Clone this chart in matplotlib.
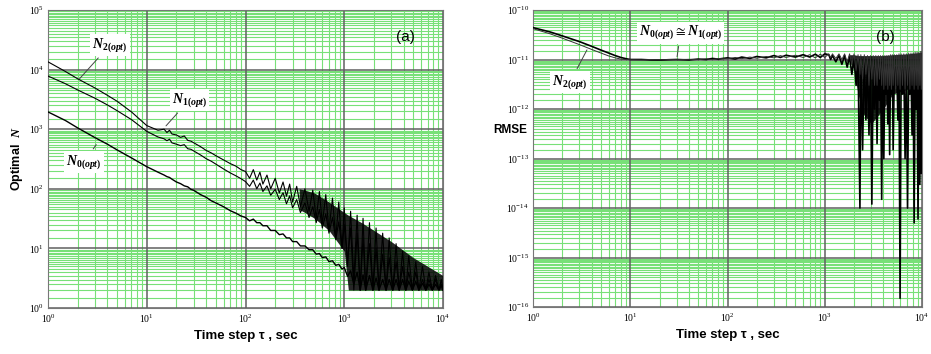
import matplotlib
matplotlib.use('Agg')
import matplotlib.pyplot as plt

plt.rcParams['mathtext.fontset'] = 'custom'
plt.rcParams['mathtext.rm'] = 'Liberation Serif:bold'
plt.rcParams['mathtext.it'] = 'Liberation Serif:italic:bold'
plt.rcParams['mathtext.bf'] = 'Liberation Serif:bold'

# ---- panel (a): optimal N vs time step ----
tau_a = [1, 1.5, 2, 3, 4, 5, 7, 10, 13, 15, 16, 17, 18, 20, 22, 24, 26, 28, 30, 35,
         40, 45, 50, 60, 70, 80, 90, 100,
         110, 120, 130, 140, 150, 165, 180, 200, 220, 240, 260, 280, 300, 330, 360,
         400, 440, 480, 520, 560, 600, 650, 700, 760, 820, 880, 950, 1000, 1080, 1160,
         1250, 1350, 1450, 1550, 1650, 1800, 1950, 2100, 2250, 2450, 2650, 2850, 3100,
         3350, 3600, 3900, 4200, 4500, 4900, 5300, 5700, 6200, 6700, 7200, 7800, 8400,
         9100, 9600, 10000]

n2_opt = [13500, 9300, 7000, 4900, 3700, 2950, 1950, 1150, 960, 1000, 880, 960, 830, 800,
          730, 770, 650, 630, 590, 510, 440, 400, 360, 305, 265, 240, 210, 195,
          150, 210, 140, 190, 120, 170, 100, 150, 85, 130, 75, 120, 60, 110, 50,
          100, 42, 95, 32, 90, 26, 80, 20, 70, 15, 60, 10, 48, 5, 42,
          3, 36, 2, 32, 2, 27, 2, 22, 2, 18, 2, 15, 2,
          12, 2, 9, 2, 7.5, 2, 6, 2, 5, 2, 4, 2, 3.5,
          2, 3, 2]

n1_opt = [7800, 5800, 4550, 3300, 2550, 2050, 1450, 920, 740, 690, 640, 680, 590, 560,
          530, 550, 470, 460, 430, 370, 320, 290, 260, 215, 185, 165, 148, 132,
          110, 140, 100, 125, 90, 112, 78, 98, 66, 86, 56, 76, 48, 66, 40,
          58, 33, 50, 27, 45, 22, 38, 18, 33, 14, 28, 10, 25, 6, 22,
          2, 18, 2, 15, 2, 12, 2, 10, 2, 8, 2, 7, 2,
          6, 2, 5, 2, 4, 2, 4, 2, 3, 2, 3, 2, 3,
          2, 2.5, 2]

n0_opt = [1950, 1400, 1050, 720, 560, 450, 330, 235, 190, 170, 160, 155, 145, 130,
          122, 112, 108, 98, 94, 80, 72, 63, 58, 50, 43, 39, 35, 33,
          29, 31, 27, 27, 24, 24, 20, 20, 17, 17.5, 15, 15, 13, 13, 11,
          11, 9.5, 9.5, 8, 8.2, 7, 7.2, 6, 6.2, 5.2, 5.4, 4.5, 4.8, 3.4, 4.2,
          2.5, 4, 2, 3.6, 2, 3.5, 2, 3.2, 2, 3, 2, 3, 2,
          3, 2, 3, 2, 2.8, 2, 2.8, 2, 2.6, 2, 2.5, 2, 2.5,
          2, 2.4, 2]

# dense oscillation band (where N1 / N2 jump every step)
band_a_tau = [350, 400, 500, 700, 1000, 1100, 1500, 2000, 3000, 5000, 7000, 10000]
band_a_hi = [100, 95, 85, 60, 40, 36, 27, 20, 13, 7, 5, 3.5]
band_a_lo = [45, 40, 32, 20, 9, 2, 2, 2, 2, 2, 2, 2]

# ---- panel (b): RMSE vs time step ----
tau_b = [1, 1.5, 2, 3, 4, 5, 6, 7, 8, 9, 10, 13, 16, 20, 25, 30, 40, 50, 60, 70, 80,
         100, 120, 140, 170, 200, 250, 300, 350, 400, 500, 600, 700, 800, 900, 1000,
         1100, 1150, 1200, 1300, 1400, 1500, 1600, 1700, 1800, 1900, 2000, 2100, 2200,
         2300, 2350, 2450, 2550, 2650, 2750, 2850, 2950, 3050, 3150, 3250, 3350, 3450,
         3550, 3650, 3750, 3850, 3950, 4050, 4150, 4250, 4350, 4450, 4550, 4650, 4750,
         4850, 4950, 5050, 5200, 5350, 5500, 5650, 5800, 5950, 6100, 6300, 6500, 6700,
         6900, 7100, 7300, 7500, 7700, 7900, 8100, 8300, 8500, 8700, 8900, 9100, 9300,
         9500, 9700, 9850, 10000]

rmse_n01 = [4.4e-11, 3.6e-11, 3.0e-11, 2.3e-11, 1.85e-11, 1.55e-11, 1.35e-11, 1.2e-11,
            1.1e-11, 1.04e-11, 1.0e-11, 1.0e-11, 0.98e-11, 0.97e-11, 0.99e-11, 1.0e-11,
            0.98e-11, 1.02e-11, 1.0e-11, 1.05e-11, 1.02e-11, 1.08e-11, 1.02e-11, 1.12e-11,
            1.05e-11, 1.15e-11, 1.08e-11, 1.2e-11, 1.1e-11, 1.22e-11, 1.12e-11, 1.25e-11,
            1.12e-11, 1.28e-11, 1.1e-11, 1.3e-11,
            1.25e-11, 1.0e-11, 1.2e-11, 9e-12, 1.2e-11, 8e-12, 1.2e-11, 7e-12, 1.15e-11, 5e-12,
            1.1e-11, 3e-12, 1.1e-11, 1.0e-14, 1.1e-11, 1.5e-13, 1.1e-11, 6e-13, 1.0e-11, 3e-13,
            1.0e-11, 1.2e-14, 1.0e-11, 1e-12, 1.0e-11, 2e-13, 9e-12, 1.5e-12, 9e-12, 1.5e-14,
            9e-12, 1e-13, 8e-12, 2e-12, 8e-12, 5e-13, 8e-12, 1.2e-13, 8e-12, 2e-12,
            8e-12, 1.5e-13, 7e-12, 3e-12, 7e-12, 6e-13, 7e-12, 1.5e-16, 7e-12, 2e-12,
            7e-12, 1e-13, 7e-12, 1e-14, 7e-12, 2e-12, 6e-12, 3e-13, 6e-12, 5e-15,
            6e-12, 1e-12, 6e-12, 6e-15, 5e-12, 3e-14, 5e-12, 5e-14, 4e-12]

rmse_n2 = [4.2e-11, 3.3e-11, 2.7e-11, 2.0e-11, 1.6e-11, 1.35e-11, 1.18e-11, 1.08e-11,
           1.02e-11, 1.0e-11, 0.99e-11, 0.98e-11, 1.0e-11, 0.98e-11, 1.0e-11, 0.99e-11,
           1.01e-11, 0.99e-11, 1.03e-11, 1.0e-11, 1.05e-11, 1.03e-11, 1.1e-11, 1.04e-11,
           1.12e-11, 1.06e-11, 1.15e-11, 1.08e-11, 1.2e-11, 1.1e-11, 1.22e-11, 1.1e-11,
           1.25e-11, 1.08e-11, 1.28e-11, 1.1e-11,
           1.3e-11, 1.1e-11, 1.3e-11, 1.05e-11, 1.3e-11, 1.0e-11, 1.3e-11, 9e-12, 1.3e-11, 8e-12,
           1.3e-11, 6e-12, 1.25e-11, 5e-12, 1.25e-11, 4e-12, 1.25e-11, 5e-12, 1.2e-11, 3e-12,
           1.2e-11, 4e-12, 1.2e-11, 3e-12, 1.2e-11, 3e-12, 1.2e-11, 4e-12, 1.2e-11, 3e-12,
           1.2e-11, 2.5e-12, 1.2e-11, 3e-12, 1.2e-11, 2.5e-12, 1.2e-11, 3e-12, 1.25e-11, 2.5e-12,
           1.25e-11, 3e-12, 1.25e-11, 2.5e-12, 1.25e-11, 3e-12, 1.3e-11, 2.5e-12, 1.3e-11, 3e-12,
           1.3e-11, 2.5e-12, 1.3e-11, 3e-12, 1.35e-11, 2.5e-12, 1.35e-11, 3e-12, 1.35e-11, 2.5e-12,
           1.4e-11, 3e-12, 1.4e-11, 2.5e-12, 1.4e-11, 3e-12, 1.45e-11, 2.5e-12, 1.45e-11]

band_b_tau = [1800, 2000, 2200, 2500, 3000, 4000, 5000, 7000, 10000]
band_b_hi = [1.25e-11, 1.25e-11, 1.2e-11, 1.2e-11, 1.2e-11, 1.2e-11, 1.25e-11, 1.3e-11, 1.4e-11]
band_b_lo = [1.0e-11, 6e-12, 2e-12, 8e-13, 5e-13, 1e-12, 2e-12, 2.5e-12, 3e-12]

GREEN = '#78e078'
GRID_DARK = '#606060'
SERIF = 'Liberation Serif'
SANS = 'Liberation Sans'

fig = plt.figure(figsize=(9.31, 3.54), dpi=100)
ax1 = fig.add_axes([48/931, 1-308/354, 395/931, 298/354])
ax2 = fig.add_axes([533/931, 1-307/354, 389/931, 297/354])


def style_log_axes(ax, dec_lo, dec_hi):
    ax.set_xscale('log')
    ax.set_yscale('log')
    ax.set_xlim(1, 1e4)
    ax.set_ylim(10.0**dec_lo, 10.0**dec_hi)
    ax.set_xticks([10.0**d for d in range(0, 5)])
    ax.set_yticks([10.0**d for d in range(dec_lo, dec_hi + 1)])
    ax.minorticks_off()
    # hand-drawn grid: green minor lines, dark decade lines
    for d in range(0, 4):
        for k in range(2, 10):
            ax.axvline(k * 10.0**d, color=GREEN, lw=0.8, zorder=0)
    for d in range(dec_lo, dec_hi):
        for k in [1.5, 2, 2.5, 3, 3.5, 4, 4.5, 5, 5.5, 6, 6.5, 7, 7.5, 8, 8.5, 9, 9.5]:
            ax.axhline(k * 10.0**d, color=GREEN, lw=0.8, zorder=0)
    for d in range(0, 5):
        ax.axvline(10.0**d, color=GRID_DARK, lw=1.1, zorder=0.5)
    for d in range(dec_lo, dec_hi + 1):
        ax.axhline(10.0**d, color=GRID_DARK, lw=1.1, zorder=0.5)
    ax.tick_params(which='both', length=0, labelsize=7, pad=3)
    for lab in ax.get_xticklabels() + ax.get_yticklabels():
        lab.set_fontfamily(SERIF)
    for s in ax.spines.values():
        s.set_color('#777777')
        s.set_linewidth(0.8)


# panel (a)
ax1.fill_between(band_a_tau, band_a_lo, band_a_hi, color='black', alpha=0.85, lw=0, zorder=2)
ax1.plot(tau_a, n2_opt, color='black', lw=0.8, zorder=3)
ax1.plot(tau_a, n1_opt, color='black', lw=0.8, zorder=3)
ax1.plot(tau_a, n0_opt, color='black', lw=1.0, zorder=3)
style_log_axes(ax1, 0, 5)
ax1.set_xlabel('Time step τ , sec', fontfamily=SANS, fontweight='bold', fontsize=9.5, labelpad=4)
ax1.set_ylabel('Optimal  $N$', fontfamily=SANS, fontweight='bold', fontsize=9, labelpad=3)
ax1.text(0.93, 0.91, '(a)', transform=ax1.transAxes, ha='right', va='center',
         fontfamily=SANS, fontsize=11, zorder=5)

bbox = dict(boxstyle='square,pad=0.15', fc='white', ec='none')
lbl = dict(fontsize=10, ha='center', va='center', zorder=6)
line = dict(arrowstyle='-', color='#444444', lw=0.7)
ax1.annotate('$N_{2(opt)}$', xy=(2, 6500), xytext=(4.25, 2.6e4), bbox=bbox, arrowprops=line, **lbl)
ax1.annotate('$N_{1(opt)}$', xy=(15, 1050), xytext=(27, 3.1e3), bbox=bbox, arrowprops=line, **lbl)
ax1.annotate('$N_{0(opt)}$', xy=(3.2, 600), xytext=(2.3, 280), bbox=bbox, arrowprops=line, **lbl)

# panel (b)
ax2.fill_between(band_b_tau, band_b_lo, band_b_hi, color='black', alpha=0.85, lw=0, zorder=2)
ax2.plot(tau_b, rmse_n01, color='black', lw=1.2, zorder=3)
ax2.plot(tau_b, rmse_n2, color='#333333', lw=0.7, zorder=3)
style_log_axes(ax2, -16, -10)
ax2.set_xlabel('Time step τ , sec', fontfamily=SANS, fontweight='bold', fontsize=9.5, labelpad=4)
ax2.set_ylabel('RMSE', fontfamily=SANS, fontweight='bold', fontsize=8.5, rotation=0,
               ha='center', va='center')
ax2.yaxis.set_label_coords(-0.059, 0.596)
ax2.text(0.93, 0.91, '(b)', transform=ax2.transAxes, ha='right', va='center',
         fontfamily=SANS, fontsize=11, zorder=5)
ax2.annotate('$N_{0(opt)} \\cong N_{1(opt)}$', xy=(30, 1.0e-11), xytext=(33, 3.5e-11),
             bbox=bbox, arrowprops=line, **lbl)
ax2.annotate('$N_{2(opt)}$', xy=(3.7, 1.75e-11), xytext=(2.4, 3.5e-12), bbox=bbox,
             arrowprops=line, **lbl)

plt.savefig('out.png', dpi=100)
